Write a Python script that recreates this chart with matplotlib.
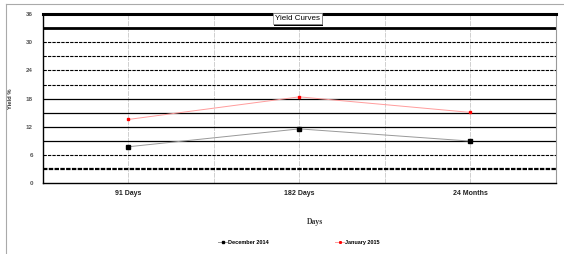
import matplotlib
matplotlib.use("Agg")
import matplotlib.pyplot as plt
import matplotlib.patheffects as pe
from matplotlib.lines import Line2D

# data
categories = ["91 Days", "182 Days", "24 Months"]
dec_2014 = [7.8, 11.6, 9.0]
jan_2015 = [13.6, 18.4, 15.1]
y_ticks = [0, 6, 12, 18, 24, 30, 36]

plt.rcParams['font.family'] = ['Liberation Sans', 'DejaVu Sans']

fig = plt.figure(figsize=(5.64, 2.54), dpi=100)
ax = fig.add_axes([0.0757, 0.2776, 0.9101, 0.6673])

xpos = [1, 3, 5]
ax.set_xlim(0, 6)
ax.set_ylim(0, 36)

# vertical gridlines
for x in range(1, 6):
    ax.axvline(x, color='#d0d0d0', lw=0.7, ls=(0, (5, 1)), zorder=1)

# horizontal gridlines (styles as in the exported excel chart)
h_styles = {
    33: dict(lw=2.0, ls='-'),
    30: dict(lw=0.8, ls=(0, (3, 1))),
    27: dict(lw=0.8, ls=(0, (3, 1))),
    24: dict(lw=0.8, ls=(0, (3, 1))),
    21: dict(lw=0.8, ls=(0, (3, 1))),
    18: dict(lw=0.9, ls='-'),
    15: dict(lw=0.9, ls='-'),
    12: dict(lw=0.9, ls='-'),
    9: dict(lw=0.9, ls='-'),
    6: dict(lw=0.8, ls=(0, (3, 1))),
    3: dict(lw=1.6, ls=(0, (2, 0.6))),
}
for yv, st in h_styles.items():
    ax.axhline(yv, color='black', zorder=2, **st)

ax.plot(xpos, dec_2014, color='#999999', lw=0.7, marker='s', ms=2.4,
        mfc='black', mec='black', zorder=4, label='December 2014')
ax.plot(xpos, jan_2015, color='#ff9c9c', lw=0.7, marker='s', ms=1.6,
        mfc='red', mec='red', zorder=4, label='January 2015')

ax.spines['top'].set_linewidth(2.2)
ax.spines['top'].set_color('black')
ax.spines['left'].set_linewidth(1.0)
ax.spines['bottom'].set_linewidth(1.0)
ax.spines['right'].set_color('#999999')
ax.spines['right'].set_linewidth(0.8)

ax.set_xticks(xpos)
ax.set_xticklabels(categories, fontsize=5, fontweight='bold', color='#222222')
ax.set_yticks(y_ticks)
ax.set_yticklabels([str(v) for v in y_ticks], fontsize=4.5, fontweight='bold', color='#555555')
ax.tick_params(length=0, pad=7)
ax.tick_params(axis='x', pad=5)

ax.set_ylabel('Yield %', fontsize=4.2, fontweight='bold', color='#333333', labelpad=9)

fig.text(0.558, 0.127, 'Days', fontsize=5.5, fontweight='bold', family='Liberation Serif',
         ha='center', va='center', color='#333333')

t = fig.text(0.527, 0.927, 'Yield Curves', fontsize=5.8, ha='center', va='center',
             bbox=dict(boxstyle='square,pad=0.25', fc='white', ec='#888888', lw=0.5))
t.get_bbox_patch().set_path_effects([
    pe.SimplePatchShadow(offset=(1.2, -1.2), shadow_rgbFace='black', alpha=1.0),
    pe.Normal()])

leg = fig.legend(loc='center', bbox_to_anchor=(0.53, 0.047), ncol=2, frameon=False,
                 handlelength=1.6, handletextpad=0.1, columnspacing=12, markerscale=0.7,
                 prop=dict(weight='bold', size=4))

# outer chart-area border
fig.add_artist(Line2D([6 / 564, 6 / 564], [0, 1 - 4 / 254], color='#aaaaaa', lw=0.8))
fig.add_artist(Line2D([6 / 564, 1], [1 - 4 / 254, 1 - 4 / 254], color='#aaaaaa', lw=0.8))

fig.savefig('out.png', dpi=100)
